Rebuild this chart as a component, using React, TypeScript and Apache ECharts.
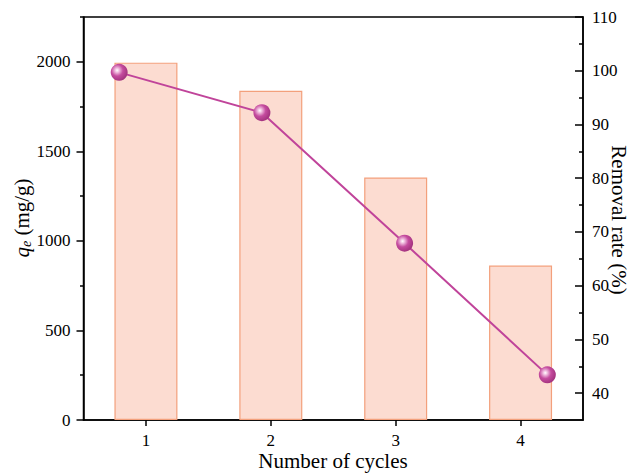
import React, { useEffect, useRef } from "react";
import * as echarts from "echarts";

// Regeneration cycles and the measured results
const cycles = [1, 2, 3, 4];
const qeValues = [1995, 1838, 1354, 862]; // adsorption capacity, mg/g
const removalRate = [99.7, 92.2, 67.9, 43.4]; // %

// Tick values
const qeMajorTicks = [0, 500, 1000, 1500, 2000];
const qeMinorTicks = [250, 750, 1250, 1750, 2250];
const rateMajorTicks = [40, 50, 60, 70, 80, 90, 100, 110];
const rateMinorTicks = [45, 55, 65, 75, 85, 95, 105];

const FONT = "'Times New Roman', 'Liberation Serif', serif";
const INK = "#000";

export default function App() {
  const ref = useRef<HTMLDivElement>(null);

  useEffect(() => {
    if (!ref.current) return;
    const chart = echarts.init(ref.current, null, { renderer: "svg" });

    const axisLine = { show: true, lineStyle: { color: INK, width: 1.5 } };
    const labelFor = (shown: number[], margin: number) => ({
      show: true,
      color: INK,
      fontSize: 17,
      fontFamily: FONT,
      margin,
      showMinLabel: true,
      showMaxLabel: true,
      hideOverlap: false,
      formatter: (v: number) =>
        shown.some((s) => Math.abs(s - v) < 1e-6) ? String(v) : "",
    });

    const option: any = {
      animation: false,
      backgroundColor: "#fff",
      textStyle: { fontFamily: FONT, color: INK, fontSize: 17 },
      grid: {
        left: 83.5,
        right: 49,
        top: 17,
        bottom: 54,
        outerBoundsMode: "none",
        containLabel: false,
        show: true,
        borderColor: INK,
        borderWidth: 1.5,
        backgroundColor: "transparent",
      },
      xAxis: [
        {
          type: "value",
          position: "bottom",
          min: 0.5,
          max: 4.5,
          interval: 0.5,
          axisLine,
          splitLine: { show: false },
          axisTick: {
            show: true,
            inside: false,
            length: 6,
            customValues: cycles,
            lineStyle: { color: INK, width: 1.5 },
          },
          axisLabel: labelFor(cycles, 12),
        },
        {
          // scale for the removal-rate line
          type: "value",
          min: 0.75,
          max: 4.25,
          show: false,
        },
      ],
      yAxis: [
        {
          type: "value",
          position: "left",
          min: 0,
          max: 2250,
          interval: 250,
          axisLine,
          splitLine: { show: false },
          axisTick: {
            show: true,
            inside: false,
            length: 7,
            customValues: qeMajorTicks,
            lineStyle: { color: INK, width: 1.5 },
          },
          axisLabel: labelFor(qeMajorTicks, 13),
        },
        {
          type: "value",
          position: "left",
          min: 0,
          max: 2250,
          axisLine: { show: false },
          splitLine: { show: false },
          axisTick: {
            show: true,
            inside: false,
            length: 3.5,
            customValues: qeMinorTicks,
            lineStyle: { color: INK, width: 1.5 },
          },
          axisLabel: { show: false },
        },
        {
          type: "value",
          position: "right",
          min: 35,
          max: 110,
          interval: 5,
          axisLine,
          splitLine: { show: false },
          axisTick: {
            show: true,
            inside: true,
            length: 8,
            customValues: rateMajorTicks,
            lineStyle: { color: INK, width: 1.5 },
          },
          axisLabel: labelFor(rateMajorTicks, 9),
        },
        {
          type: "value",
          position: "right",
          min: 35,
          max: 110,
          axisLine: { show: false },
          splitLine: { show: false },
          axisTick: {
            show: true,
            inside: true,
            length: 4,
            customValues: rateMinorTicks,
            lineStyle: { color: INK, width: 1.5 },
          },
          axisLabel: { show: false },
        },
      ],
      // axis titles
      graphic: [
        {
          type: "text",
          x: 333,
          y: 461,
          style: {
            text: "Number of cycles",
            fontSize: 21,
            fontFamily: FONT,
            fill: INK,
            align: "center",
            verticalAlign: "middle",
          },
        },
        {
          type: "text",
          x: 22,
          y: 218,
          rotation: Math.PI / 2,
          style: {
            text: "{i|q}{s|e}{n| (mg/g)}",
            fontSize: 21,
            fontFamily: FONT,
            fill: INK,
            align: "center",
            verticalAlign: "middle",
            rich: {
              i: { fontSize: 21, fontStyle: "italic", fontFamily: FONT, fill: INK },
              s: {
                fontSize: 14,
                fontStyle: "italic",
                fontFamily: FONT,
                fill: INK,
                verticalAlign: "bottom",
                padding: [8, 0, 0, 0],
              },
              n: { fontSize: 21, fontFamily: FONT, fill: INK },
            },
          },
        },
        {
          type: "text",
          x: 619,
          y: 220,
          rotation: -Math.PI / 2,
          style: {
            text: "Removal rate (%)",
            fontSize: 21,
            fontFamily: FONT,
            fill: INK,
            align: "center",
            verticalAlign: "middle",
          },
        },
      ],
      series: [
        {
          name: "qe",
          type: "bar",
          xAxisIndex: 0,
          yAxisIndex: 0,
          barWidth: 63,
          data: cycles.map((c, i) => [c, qeValues[i]]),
          itemStyle: {
            color: "#fcdcd1",
            borderColor: "#f3a07c",
            borderWidth: 1.2,
          },
          z: 2,
        },
        {
          name: "Removal rate",
          type: "line",
          xAxisIndex: 1,
          yAxisIndex: 2,
          data: cycles.map((c, i) => [c, removalRate[i]]),
          lineStyle: { color: "#c0449a", width: 2 },
          symbol: "circle",
          symbolSize: 17,
          itemStyle: {
            color: {
              type: "radial",
              x: 0.38,
              y: 0.38,
              r: 0.62,
              colorStops: [
                { offset: 0, color: "#ffffff" },
                { offset: 0.18, color: "#f2c3e2" },
                { offset: 0.55, color: "#c54c9f" },
                { offset: 1, color: "#a53480" },
              ],
            },
            borderWidth: 0,
          },
          z: 3,
        },
      ],
    };

    chart.setOption(option);
    return () => chart.dispose();
  }, []);

  return (
    <div
      ref={ref}
      style={{ position: "fixed", left: 0, top: 0, width: 632, height: 474 }}
    />
  );
}
